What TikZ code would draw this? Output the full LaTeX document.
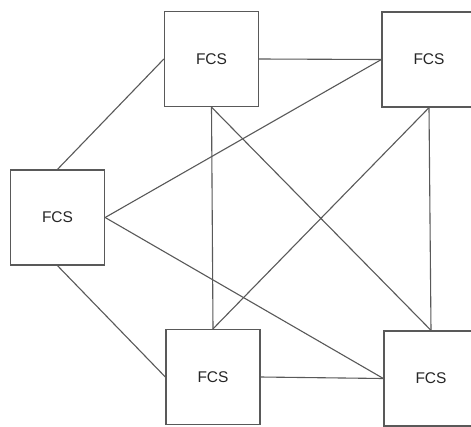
\documentclass[tikz,border=0pt]{standalone}
\usepackage{fontspec}
\setmainfont{Liberation Sans}
\begin{document}
\begin{tikzpicture}[x=1pt,y=-1pt,
  fcs/.style={draw=black!65, line width=1.3pt, fill=white, inner sep=0pt,
    minimum width=94pt, minimum height=95pt, text=black!85,
    font=\fontsize{15.5}{18}\selectfont},
  link/.style={draw=black!65, line width=1.1pt}]
\useasboundingbox (0,0) rectangle (471,426);
\clip (0,0) rectangle (471,426);
\fill[white] (0,0) rectangle (471,426);
% five stations
\node[fcs] (l)  at (57.5,217.5) {FCS};
\node[fcs] (tm) at (211.5,59)  {FCS};
\node[fcs] (tr) at (429,59.5)  {FCS};
\node[fcs] (bm) at (213,377)   {FCS};
\node[fcs] (br) at (431,378.5) {FCS};
% links between stations
\draw[link] (l.north) -- (tm.west);
\draw[link] (l.south) -- (bm.west);
\draw[link] (l.east) -- (tr.west);
\draw[link] (l.east) -- (br.west);
\draw[link] (tm.east) -- (tr.west);
\draw[link] (tm.south) -- (bm.north);
\draw[link] (tm.south) -- (br.north);
\draw[link] (tr.south) -- (br.north);
\draw[link] (tr.south) -- (bm.north);
\draw[link] (bm.east) -- (br.west);
\end{tikzpicture}
\end{document}
